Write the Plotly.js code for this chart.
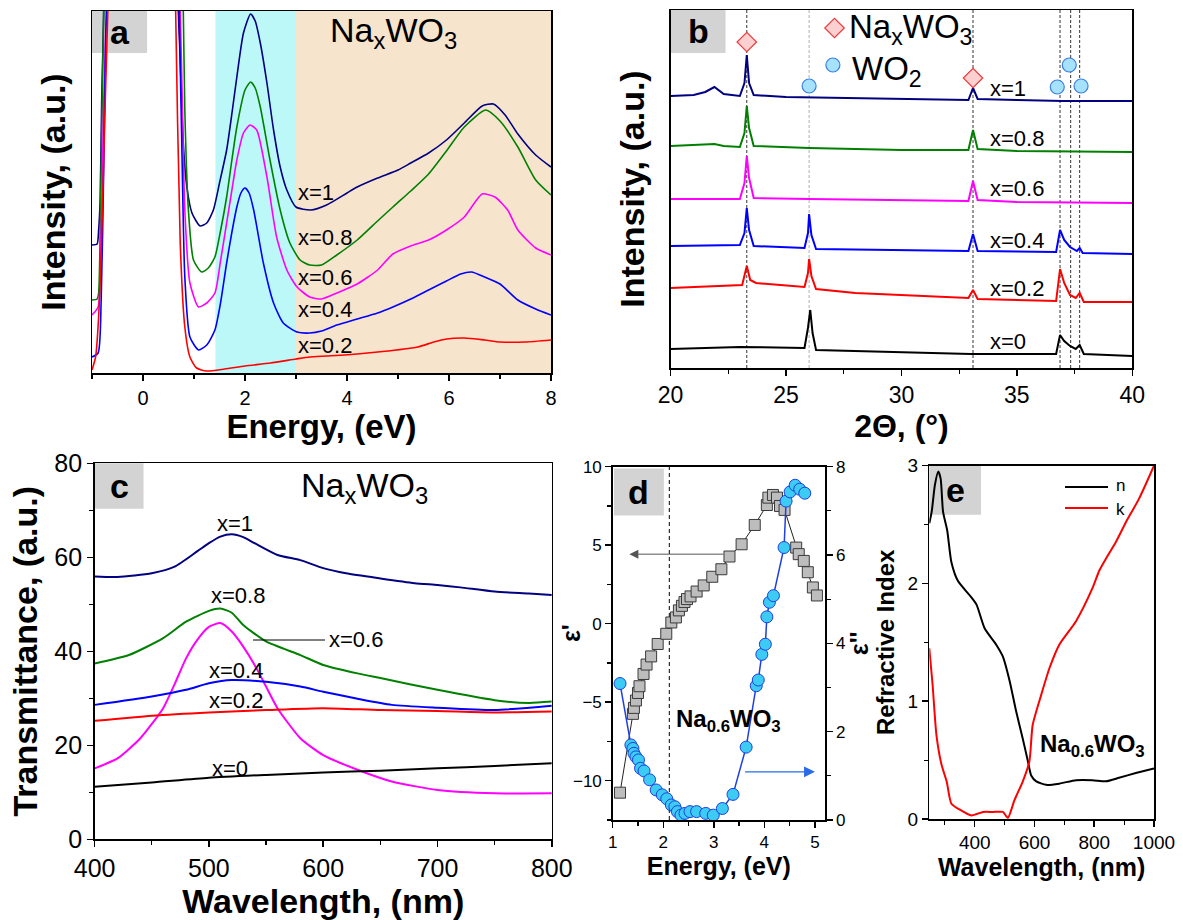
<!DOCTYPE html>
<html>
<head>
<meta charset="utf-8">
<script src="https://cdn.plot.ly/plotly-3.0.1.min.js"></script>
<style>html,body{margin:0;padding:0;background:#fff;}#fig{width:1183px;height:920px;}</style>
</head>
<body>
<div id="fig"></div>
<script>
// ---------------- Panel a : intensity vs energy ----------------
const aE_x1 = [-1, -0.9, -0.87, -0.84, -0.81, -0.77, -0.7, 0.6, 0.68, 0.73, 0.79, 0.86, 0.96, 1.12, 1.25, 1.38, 1.5, 1.64, 1.75, 1.84, 1.97, 2.11, 2.2, 2.3, 2.43, 2.56, 2.69, 2.82, 3.0, 3.29, 3.6, 4.0, 4.2, 4.6, 5.0, 5.25, 5.6, 5.95, 6.3, 6.65, 6.87, 7.1, 7.35, 7.7, 8.0];
const aI_x1 = [128, 129, 143, 173, 273, 363, 700, 700, 380, 313, 230, 186, 160, 147, 150, 163, 190, 223, 262, 296, 340, 359, 352, 330, 290, 243, 206, 183, 166, 163, 168, 180, 186, 195, 203, 210, 220, 233, 250, 267, 269, 258, 239, 218, 206];
const aE_x08 = [-1, -0.9, -0.87, -0.83, -0.79, -0.77, -0.7, 0.6, 0.72, 0.79, 0.82, 0.89, 0.99, 1.15, 1.28, 1.41, 1.52, 1.64, 1.74, 1.84, 2.0, 2.11, 2.2, 2.3, 2.49, 2.69, 2.88, 3.08, 3.27, 3.5, 3.8, 4.2, 4.6, 4.9, 5.25, 5.6, 5.95, 6.3, 6.72, 7.0, 7.35, 7.7, 8.0];
const aI_x08 = [73, 74, 80, 173, 306, 363, 700, 700, 500, 363, 263, 163, 113, 101, 105, 116, 142, 176, 212, 246, 283, 291, 285, 266, 213, 163, 130, 113, 108, 108, 118, 133, 152, 166, 182, 199, 222, 246, 263, 252, 226, 193, 178];
const aE_x06 = [-1, -0.88, -0.82, -0.77, -0.72, -0.68, 0.6, 0.73, 0.76, 0.82, 0.92, 1.09, 1.25, 1.41, 1.52, 1.64, 1.74, 1.84, 1.97, 2.1, 2.23, 2.43, 2.62, 2.82, 3.02, 3.27, 3.5, 3.8, 4.2, 4.6, 4.9, 5.25, 5.6, 5.95, 6.3, 6.65, 6.9, 7.15, 7.35, 7.7, 8.0];
const aI_x06 = [58, 66, 140, 273, 363, 700, 700, 363, 296, 163, 90, 66, 70, 80, 112, 150, 182, 213, 240, 248, 243, 196, 136, 103, 86, 76, 74, 80, 89, 103, 119, 127, 133, 143, 156, 179, 176, 163, 143, 125, 118];
const aE_x04 = [-1, -0.88, -0.82, -0.77, -0.73, -0.71, -0.65, 0.6, 0.71, 0.76, 0.82, 0.92, 1.09, 1.25, 1.41, 1.52, 1.64, 1.74, 1.84, 1.92, 2.0, 2.08, 2.17, 2.36, 2.56, 2.75, 3.02, 3.27, 3.5, 3.8, 4.2, 4.6, 4.9, 5.25, 5.6, 5.95, 6.23, 6.44, 6.7, 7.0, 7.35, 7.7, 8.0];
const aI_x04 = [16, 20, 73, 206, 340, 363, 700, 700, 363, 230, 96, 36, 23, 28, 43, 70, 110, 140, 166, 180, 185, 180, 163, 110, 70, 50, 41, 40, 42, 48, 54, 60, 66, 74, 83, 92, 99, 101, 96, 89, 73, 64, 58];
const aE_x02 = [-1, -0.93, -0.87, -0.8, -0.74, -0.69, -0.6, 0.55, 0.64, 0.73, 0.82, 0.92, 1.05, 1.25, 1.6, 2.0, 2.5, 3.0, 3.27, 3.6, 4.2, 4.8, 5.39, 5.7, 5.95, 6.3, 6.7, 7.0, 7.5, 8.0];
const aI_x02 = [3, 16, 56, 156, 273, 363, 700, 700, 363, 130, 46, 16, 5, 2, 4, 7, 10, 14, 16, 17, 19, 22, 26, 31, 34, 35, 33, 31, 31, 33];
const aLabels = ['x=1', 'x=0.8', 'x=0.6', 'x=0.4', 'x=0.2'];
const aBandCyan = [1.42, 3.0];
const aBandTan = [3.0, 8.0];

// ---------------- Panel b : XRD ----------------
const b2t_x1 = [20, 21.0, 21.5, 21.9, 22.3, 23.0, 23.2, 23.3, 23.4, 23.6, 25, 28, 30, 32.9, 33.1, 33.3, 35, 37, 40];
const bI_x1 = [272, 273, 276, 281, 274, 272, 285, 313, 285, 273, 271, 270, 269, 268, 280, 269, 268, 267, 267];
const b2t_x08 = [20, 21.5, 21.9, 22.3, 23.0, 23.2, 23.3, 23.4, 23.6, 26, 30, 32.9, 33.1, 33.3, 35, 40];
const bI_x08 = [222, 223, 224, 222, 221, 235, 262, 240, 222, 220, 218, 218, 238, 219, 217, 216];
const b2t_x06 = [20, 23.0, 23.2, 23.3, 23.4, 23.6, 26, 30, 32.9, 33.1, 33.3, 35, 40];
const bI_x06 = [169, 169, 185, 212, 190, 170, 169, 168, 167, 187, 168, 166, 165];
const b2t_x04 = [20, 23.0, 23.2, 23.3, 23.4, 23.6, 25.8, 25.95, 26.0, 26.1, 26.3, 30, 32.9, 33.1, 33.3, 36.7, 36.87, 37.05, 37.3, 37.6, 37.72, 37.85, 40];
const bI_x04 = [122, 123, 135, 160, 138, 122, 120, 135, 154, 133, 119, 118, 117, 134, 117, 116, 138, 128, 121, 117, 120, 115, 114];
const b2t_x02 = [20, 22, 23.1, 23.3, 23.45, 23.7, 25.8, 25.95, 26.0, 26.1, 26.3, 28, 30, 32.9, 33.1, 33.3, 36.7, 36.87, 37.05, 37.3, 37.55, 37.72, 37.9, 40];
const bI_x02 = [80, 82, 83, 102, 88, 85, 81, 95, 109, 92, 79, 75, 73, 70, 78, 69, 67, 99, 85, 73, 70, 75, 66, 66];
const b2t_x0 = [20, 23, 25.8, 25.95, 26.05, 26.15, 26.3, 30, 33, 36.7, 36.87, 37.05, 37.3, 37.55, 37.72, 37.9, 40];
const bI_x0 = [19, 21, 20, 40, 58, 35, 18, 16, 14, 14, 33, 27, 22, 19, 23, 14, 12];
const bLabels = ['x=1', 'x=0.8', 'x=0.6', 'x=0.4', 'x=0.2', 'x=0'];
const bRefLines = [23.3, 26.0, 33.1, 36.87, 37.33, 37.72];
const bNaPeaks2t = [23.3, 33.1];
const bNaPeaksI = [326, 290];
const bWO2Peaks2t = [26.0, 36.75, 37.27, 37.78];
const bWO2PeaksI = [282, 281, 303, 282];
const bLegend2t = [27.1, 27.03];
const bLegendI = [340, 303];

// ---------------- Panel c : transmittance ----------------
const cL_x1 = [400, 420, 450, 470, 490, 500, 510, 520, 530, 540, 560, 580, 600, 620, 650, 680, 700, 720, 750, 780, 800];
const cT_x1 = [55.9, 55.8, 56.6, 58.0, 61.3, 63.0, 64.4, 64.9, 64.3, 63.0, 60.5, 59.4, 57.7, 56.6, 55.5, 54.5, 54.1, 53.6, 52.7, 52.3, 52.0];
const cL_x08 = [400, 430, 460, 480, 500, 510, 520, 530, 550, 580, 600, 630, 650, 700, 750, 780, 800];
const cT_x08 = [37.4, 39.2, 42.8, 46.3, 48.6, 49.1, 48.2, 45.6, 42.1, 39.2, 37.1, 35.3, 34.3, 31.8, 29.6, 29.0, 29.3];
const cL_x06 = [400, 420, 440, 460, 470, 480, 490, 500, 510, 520, 530, 540, 550, 560, 580, 600, 630, 660, 700, 750, 800];
const cT_x06 = [15.1, 17.2, 21.5, 27.9, 33.0, 38.5, 42.5, 45.2, 46.0, 44.2, 41.0, 37.1, 32.5, 27.9, 21.5, 17.9, 14.8, 12.3, 10.5, 9.8, 9.8];
const cL_x04 = [400, 450, 480, 500, 520, 550, 580, 600, 630, 660, 700, 750, 800];
const cT_x04 = [28.6, 30.4, 31.8, 33.2, 33.9, 33.5, 32.5, 31.4, 29.9, 28.6, 28.0, 27.5, 28.4];
const cL_x02 = [400, 450, 500, 550, 600, 650, 700, 750, 800];
const cT_x02 = [25.2, 26.3, 27.0, 27.5, 27.9, 27.5, 27.3, 27.0, 27.2];
const cL_x0 = [400, 450, 500, 550, 600, 650, 700, 750, 800];
const cT_x0 = [11.2, 12.1, 13.1, 13.7, 14.2, 14.6, 15.1, 15.6, 16.2];

// ---------------- Panel d : dielectric function ----------------
const dE_re = [1.145, 1.40, 1.42, 1.46, 1.50, 1.53, 1.61, 1.67, 1.76, 1.89, 2.06, 2.16, 2.25, 2.31, 2.37, 2.42, 2.47, 2.54, 2.66, 2.80, 2.97, 3.15, 3.31, 3.55, 3.81, 4.05, 4.08, 4.17, 4.25, 4.31, 4.40, 4.63, 4.68, 4.78, 4.86, 4.96, 5.04];
const dEps1 = [-10.76, -5.74, -5.36, -4.89, -4.41, -3.98, -3.2, -2.6, -2.08, -1.29, -0.64, 0.08, 0.4, 0.85, 1.14, 1.38, 1.57, 1.74, 2.05, 2.44, 2.99, 3.47, 4.28, 5.06, 6.29, 7.56, 8.03, 8.2, 8.03, 7.5, 7.25, 4.85, 4.43, 4.0, 3.28, 2.31, 1.8];
const dE_im = [1.145, 1.36, 1.40, 1.42, 1.46, 1.51, 1.55, 1.62, 1.73, 1.86, 1.98, 2.07, 2.16, 2.23, 2.28, 2.35, 2.43, 2.53, 2.66, 2.84, 2.99, 3.17, 3.38, 3.64, 3.84, 3.88, 3.95, 4.02, 4.05, 4.10, 4.18, 4.39, 4.43, 4.51, 4.61, 4.70, 4.80];
const dEps2 = [3.09, 1.70, 1.62, 1.51, 1.43, 1.36, 1.17, 1.11, 0.91, 0.68, 0.57, 0.48, 0.34, 0.30, 0.19, 0.11, 0.15, 0.19, 0.19, 0.15, 0.11, 0.26, 0.58, 1.65, 3.04, 3.17, 3.75, 3.98, 4.6, 4.93, 5.08, 6.17, 7.22, 7.43, 7.58, 7.49, 7.40];
const dDashE = 2.12;

// ---------------- Panel e : optical constants ----------------
const eL_n = [248, 256, 267, 278, 286, 294, 308, 322, 344, 383, 406, 433, 472, 494, 517, 539, 561, 578, 589, 606, 639, 683, 739, 794, 839, 883, 939, 1000];
const eN = [2.51, 2.61, 2.84, 2.95, 2.89, 2.61, 2.45, 2.18, 2.02, 1.90, 1.82, 1.62, 1.48, 1.38, 1.17, 0.91, 0.68, 0.49, 0.37, 0.32, 0.29, 0.30, 0.33, 0.33, 0.32, 0.35, 0.39, 0.43];
const eL_k = [248, 259, 272, 289, 306, 322, 350, 389, 428, 461, 494, 511, 533, 561, 583, 594, 622, 650, 683, 739, 794, 817, 839, 872, 906, 950, 1000];
const eK = [1.45, 1.14, 0.71, 0.46, 0.32, 0.13, 0.08, 0.03, 0.06, 0.06, 0.06, 0.01, 0.16, 0.32, 0.49, 0.80, 1.05, 1.28, 1.48, 1.68, 1.96, 2.11, 2.21, 2.35, 2.52, 2.72, 3.0];

// ================= building the figure =================
const FONT = 'Liberation Sans, Arial, Helvetica, sans-serif';
const W = 1183, H = 920;
const PX = v => v / W;
const PY = v => 1 - v / H;

const C = {navy:'#000080', green:'#008000', mag:'#ff00ff', blue:'#0000ff', red:'#ff0000', black:'#000000'};
const aColors = [C.navy, C.green, C.mag, C.blue, C.red];
const bColors = [C.navy, C.green, C.mag, C.blue, C.red, C.black];

function line(x, y, color, xa, ya, width, shape) {
  return {x, y, xaxis: xa, yaxis: ya, type: 'scatter', mode: 'lines',
    line: {color, width: width || 1.5, shape: shape || 'linear', smoothing: 0.6},
    hoverinfo: 'skip', showlegend: false};
}

const traces = [];
// a
[[aE_x1, aI_x1], [aE_x08, aI_x08], [aE_x06, aI_x06], [aE_x04, aI_x04], [aE_x02, aI_x02]]
  .forEach((s, i) => traces.push(line(s[0], s[1], aColors[i], 'x', 'y', 1.6, 'spline')));
// b
[[b2t_x1, bI_x1], [b2t_x08, bI_x08], [b2t_x06, bI_x06], [b2t_x04, bI_x04], [b2t_x02, bI_x02], [b2t_x0, bI_x0]]
  .forEach((s, i) => traces.push(line(s[0], s[1], bColors[i], 'x2', 'y2', 2)));
traces.push({x: bNaPeaks2t.concat([bLegend2t[0]]), y: bNaPeaksI.concat([bLegendI[0]]), xaxis:'x2', yaxis:'y2', type:'scatter', mode:'markers',
  marker:{symbol:'diamond', size:15, color:'#fbd0d0', line:{color:'#ee3b3b', width:1.2}}, cliponaxis:false, hoverinfo:'skip', showlegend:false});
traces.push({x: bWO2Peaks2t.concat([bLegend2t[1]]), y: bWO2PeaksI.concat([bLegendI[1]]), xaxis:'x2', yaxis:'y2', type:'scatter', mode:'markers',
  marker:{symbol:'circle', size:14, color:'#a6e2fb', line:{color:'#3c7fe6', width:1.2}}, cliponaxis:false, hoverinfo:'skip', showlegend:false});
// c
[[cL_x1, cT_x1], [cL_x08, cT_x08], [cL_x06, cT_x06], [cL_x04, cT_x04], [cL_x02, cT_x02], [cL_x0, cT_x0]]
  .forEach((s, i) => traces.push(line(s[0], s[1], bColors[i], 'x3', 'y3', 2, 'spline')));
// d
traces.push({x: dE_re, y: dEps1, xaxis:'x4', yaxis:'y4', type:'scatter', mode:'lines+markers',
  line:{color:'#222', width:1}, marker:{symbol:'square', size:11, color:'#bdbdbd', line:{color:'#3a3a3a', width:1}},
  hoverinfo:'skip', showlegend:false});
traces.push({x: dE_im, y: dEps2, xaxis:'x4', yaxis:'y5', type:'scatter', mode:'lines+markers',
  line:{color:'#1f3fe0', width:1.5}, marker:{symbol:'circle', size:12, color:'#3ccbf2', line:{color:'#1f3fe0', width:1}},
  hoverinfo:'skip', showlegend:false});
// e
traces.push(line(eL_n, eN, '#000', 'x5', 'y6', 2, 'spline'));
traces.push(line(eL_k, eK, '#ff0000', 'x5', 'y6', 2, 'spline'));

function ax(o) {
  return Object.assign({showline:true, linecolor:'#000', linewidth:1.5, mirror:true, showgrid:false, zeroline:false,
    ticks:'outside', ticklen:6, tickwidth:1.5, tickcolor:'#000', tickfont:{family:FONT, size:18, color:'#000'}}, o);
}
function minor(d, len) { return {dtick:d, ticks:'outside', ticklen:len || 4, tickwidth:1.2, tickcolor:'#000'}; }
function ttl(text, size, standoff) { return {text:'<b>' + text + '</b>', font:{family:FONT, size, color:'#000'}, standoff}; }

const layout = {
  width: W, height: H, margin:{l:0, r:0, t:0, b:0}, autosize:false,
  paper_bgcolor:'#fff', plot_bgcolor:'rgba(0,0,0,0)', showlegend:false,
  font:{family:FONT, color:'#000'},
  // a
  xaxis: ax({domain:[PX(92), PX(551)], anchor:'y', range:[-1, 8], tickmode:'linear', tick0:0, dtick:2, minor:minor(1),
    tickfont:{family:FONT, size:20, color:'#000'}, title:ttl('Energy, (eV)', 33, 4)}),
  yaxis: ax({domain:[PY(373), PY(11)], anchor:'x', range:[0, 362], ticks:'', showticklabels:false,
    title:ttl('Intensity, (a.u.)', 34, 14)}),
  // b
  xaxis2: ax({domain:[PX(670.6), PX(1132.3)], anchor:'y2', range:[20, 40], tickmode:'linear', tick0:20, dtick:5, minor:minor(2.5),
    tickfont:{family:FONT, size:23, color:'#000'}, title:ttl('2Θ, (°)', 32, 4)}),
  yaxis2: ax({domain:[PY(368), PY(10)], anchor:'x2', range:[0, 358], ticks:'', showticklabels:false,
    title:ttl('Intensity, (a.u.)', 34, 14)}),
  // c
  xaxis3: ax({domain:[PX(94.6), PX(551.8)], anchor:'y3', range:[400, 800], tickmode:'linear', tick0:400, dtick:100, minor:minor(50),
    tickfont:{family:FONT, size:25, color:'#000'}, title:ttl('Wavelength, (nm)', 34, 6)}),
  yaxis3: ax({domain:[PY(839.3), PY(463.3)], anchor:'x3', range:[0, 80], tickmode:'linear', tick0:0, dtick:20, minor:minor(10),
    tickfont:{family:FONT, size:25, color:'#000'}, title:ttl('Transmittance, (a.u.)', 34, 6)}),
  // d
  xaxis4: ax({domain:[PX(612.7), PX(825)], anchor:'y4', range:[1, 5.2], tickmode:'linear', tick0:1, dtick:1, minor:minor(0.5),
    tickfont:{family:FONT, size:17, color:'#000'}, title:ttl('Energy, (eV)', 25, 4)}),
  yaxis4: ax({domain:[PY(820), PY(466.7)], anchor:'x4', range:[-12.5, 10], tickmode:'linear', tick0:0, dtick:5, minor:minor(2.5),
    mirror:false, tickfont:{family:FONT, size:17, color:'#000'}}),
  yaxis5: ax({domain:[PY(820), PY(466.7)], anchor:'x4', overlaying:'y4', side:'right', range:[0, 8], tickmode:'linear', tick0:0, dtick:2, minor:minor(1),
    mirror:false, tickfont:{family:FONT, size:17, color:'#000'}, title:ttl("ε''", 25, 0)}),
  // e
  xaxis5: ax({domain:[PX(929.3), PX(1154)], anchor:'y6', range:[248, 1000], tickmode:'linear', tick0:0, dtick:200, minor:minor(100),
    tickfont:{family:FONT, size:19, color:'#000'}, title:ttl('Wavelength, (nm)', 25, 4)}),
  yaxis6: ax({domain:[PY(819), PY(465.7)], anchor:'x5', range:[0, 3], tickmode:'linear', tick0:0, dtick:1, minor:minor(0.5),
    tickfont:{family:FONT, size:19, color:'#000'}, title:ttl('Refractive Index', 24, 6)}),
  shapes: [],
  annotations: []
};

const S = layout.shapes, A = layout.annotations;
// a background bands
S.push({type:'rect', xref:'x', yref:'y domain', x0:aBandCyan[0], x1:aBandCyan[1], y0:0, y1:1, fillcolor:'#bdf8f9', line:{width:0}, layer:'below'});
S.push({type:'rect', xref:'x', yref:'y domain', x0:aBandTan[0], x1:aBandTan[1], y0:0, y1:1, fillcolor:'#f7e4cd', line:{width:0}, layer:'below'});
// letter boxes
const boxes = [
  ['x', 'y', 0, 0.12, 0.884, 1, 'a'],
  ['x2', 'y2', 0, 0.119, 0.88, 1, 'b'],
  ['x3', 'y3', 0, 0.107, 0.879, 1, 'c'],
  ['x4', 'y4', 0.006, 0.241, 0.862, 0.995, 'd'],
  ['x5', 'y6', 0, 0.23, 0.861, 1, 'e']
];
boxes.forEach(b => {
  S.push({type:'rect', xref:b[0] + ' domain', yref:b[1] + ' domain', x0:b[2], x1:b[3], y0:b[4], y1:b[5], fillcolor:'#d3d3d3', line:{width:0}, layer:'below'});
  A.push({xref:b[0] + ' domain', yref:b[1] + ' domain', x:(b[2] + b[3]) / 2, y:(b[4] + b[5]) / 2, text:'<b>' + b[6] + '</b>',
    showarrow:false, font:{family:FONT, size:34, color:'#000'}, xanchor:'center', yanchor:'middle'});
});
// b reference lines
bRefLines.forEach((p, i) => S.push({type:'line', xref:'x2', yref:'y2 domain', x0:p, x1:p, y0:0, y1:1,
  line:{color: i === 1 ? '#b0b0b0' : '#333', width:1, dash:'3px,2px'}, layer:'below'}));
// d dashed line
S.push({type:'line', xref:'x4', yref:'y4 domain', x0:dDashE, x1:dDashE, y0:0, y1:1, line:{color:'#000', width:1, dash:'4px,3px'}, layer:'below'});

// texts
const NAXWO3 = 'Na<sub>x</sub>WO<sub>3</sub>';
A.push({xref:'paper', yref:'paper', x:PX(393), y:PY(33), text:NAXWO3, showarrow:false, font:{family:FONT, size:34, color:'#000'}, xanchor:'center', yanchor:'middle'});
A.push({xref:'paper', yref:'paper', x:PX(847), y:PY(29), text:NAXWO3, showarrow:false, font:{family:FONT, size:33, color:'#000'}, xanchor:'left', yanchor:'middle'});
A.push({xref:'paper', yref:'paper', x:PX(850), y:PY(71), text:'WO<sub>2</sub>', showarrow:false, font:{family:FONT, size:33, color:'#000'}, xanchor:'left', yanchor:'middle'});
A.push({xref:'paper', yref:'paper', x:PX(364), y:PY(487), text:NAXWO3, showarrow:false, font:{family:FONT, size:34, color:'#000'}, xanchor:'center', yanchor:'middle'});
A.push({xref:'paper', yref:'paper', x:PX(728), y:PY(720), text:'<b>Na<sub>0.6</sub>WO<sub>3</sub></b>', showarrow:false, font:{family:FONT, size:24, color:'#000'}, xanchor:'center', yanchor:'middle'});
A.push({xref:'paper', yref:'paper', x:PX(1092), y:PY(745), text:'<b>Na<sub>0.6</sub>WO<sub>3</sub></b>', showarrow:false, font:{family:FONT, size:24, color:'#000'}, xanchor:'center', yanchor:'middle'});
// d left axis title (sits close to the tick labels, as in the reference)
A.push({xref:'paper', yref:'paper', x:PX(571), y:PY(633), text:"<b>ε'</b>", textangle:-90, showarrow:false, font:{family:FONT, size:25, color:'#000'}, xanchor:'center', yanchor:'middle'});

// a curve labels
const aLabY = [192, 237, 277, 310, 345];
aLabels.forEach((t, i) => A.push({xref:'paper', yref:'paper', x:PX(296), y:PY(aLabY[i]), text:t, showarrow:false,
  font:{family:FONT, size:22, color:'#000'}, xanchor:'left', yanchor:'middle'}));
// b curve labels
const bLabY = [88, 138, 188, 240, 288, 342];
bLabels.forEach((t, i) => A.push({xref:'paper', yref:'paper', x:PX(988), y:PY(bLabY[i]), text:t, showarrow:false,
  font:{family:FONT, size:22, color:'#000'}, xanchor:'left', yanchor:'middle'}));
// c curve labels
const cLab = [['x=1', 235, 523, 'center'], ['x=0.8', 238, 595, 'center'], ['x=0.6', 327, 639, 'left'],
  ['x=0.4', 236, 670, 'center'], ['x=0.2', 236, 700, 'center'], ['x=0', 230, 768, 'center']];
cLab.forEach(l => A.push({xref:'paper', yref:'paper', x:PX(l[1]), y:PY(l[2]), text:l[0], showarrow:false,
  font:{family:FONT, size:22, color:'#000'}, xanchor:l[3], yanchor:'middle'}));
S.push({type:'line', xref:'paper', yref:'paper', x0:PX(253), x1:PX(325), y0:PY(640), y1:PY(640), line:{color:'#000', width:1}});

// d arrows
A.push({xref:'x4', yref:'y4', axref:'x4', ayref:'y4', x:1.33, y:4.43, ax:3.22, ay:4.43, text:'', showarrow:true,
  arrowhead:2, arrowsize:1.8, arrowwidth:1, arrowcolor:'#555'});
A.push({xref:'x4', yref:'y5', axref:'x4', ayref:'y5', x:5.0, y:1.09, ax:3.59, ay:1.09, text:'', showarrow:true,
  arrowhead:2, arrowsize:1.8, arrowwidth:1.2, arrowcolor:'#2a6ae8'});

// e legend
S.push({type:'line', xref:'paper', yref:'paper', x0:PX(1065), x1:PX(1108), y0:PY(487), y1:PY(487), line:{color:'#000', width:2}});
S.push({type:'line', xref:'paper', yref:'paper', x0:PX(1065), x1:PX(1108), y0:PY(508), y1:PY(508), line:{color:'#ff0000', width:2}});
A.push({xref:'paper', yref:'paper', x:PX(1114), y:PY(486), text:'n', showarrow:false, font:{family:FONT, size:17, color:'#000'}, xanchor:'left', yanchor:'middle'});
A.push({xref:'paper', yref:'paper', x:PX(1114), y:PY(509), text:'k', showarrow:false, font:{family:FONT, size:17, color:'#000'}, xanchor:'left', yanchor:'middle'});

Plotly.newPlot('fig', traces, layout, {staticPlot:true, displayModeBar:false});
</script>
</body>
</html>
